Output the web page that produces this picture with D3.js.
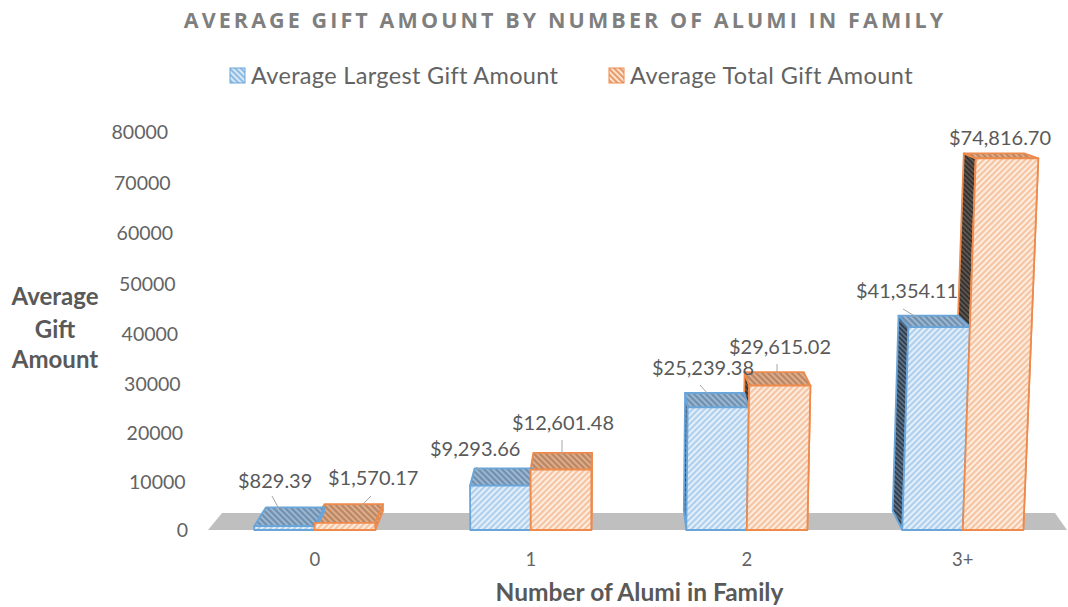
<!DOCTYPE html>
<html><head><meta charset="utf-8">
<script src="https://cdn.jsdelivr.net/npm/d3@7"></script>
<style>html,body{margin:0;padding:0;background:#fff}svg{display:block}text{font-family:Lato,"Open Sans",sans-serif}</style>
</head><body><svg id="c" width="1068" height="607"></svg>
<script>
const categories = ["0","1","2","3+"];
const seriesNames = ["Average Largest Gift Amount","Average Total Gift Amount"];
const largest = [829.39,9293.66,25239.38,41354.11];
const total = [1570.17,12601.48,29615.02,74816.70];
const largestLabels = ["$829.39","$9,293.66","$25,239.38","$41,354.11"];
const totalLabels = ["$1,570.17","$12,601.48","$29,615.02","$74,816.70"];
const yTicks = [0,10000,20000,30000,40000,50000,60000,70000,80000];
const W = 1068, H = 607;
const svg = d3.select("#c");
const y = d3.scalePow().exponent(1.02).domain([0,80000]).range([530,132]);
const x0 = d3.scaleBand().domain(categories).range([207.8,1069.8]).paddingInner(0.44).paddingOuter(0.2153);
const x1 = d3.scaleBand().domain([0,1]).range([0,x0.bandwidth()]);

// perspective projection of the 3-D box corners
function pt(x, v, back){
  const h = 530 - y(v);
  const fx = x + (x-560)*8.7e-5*h;
  const fy = y(v);
  if(!back) return [fx,fy];
  return [fx + (610-fx)*0.033, fy - (19 - h*0.038)];
}
const poly = ps => ps.map(p=>p.map(n=>n.toFixed(1)).join(",")).join(" ");

const defs = svg.append("defs");
function hatch(id,bg,stroke,angle,gap,sw){
  const p = defs.append("pattern").attr("id",id).attr("patternUnits","userSpaceOnUse")
    .attr("width",gap).attr("height",gap).attr("patternTransform",`rotate(${angle})`);
  p.append("rect").attr("width",gap).attr("height",gap).attr("fill",bg);
  p.append("line").attr("x1",0).attr("y1",gap/2).attr("x2",gap).attr("y2",gap/2)
    .attr("stroke",stroke).attr("stroke-width",sw);
}
const pal = [
 {edge:"#6aa5da",front:["#e6f0fa","#a9cdec"],top:["#9fb8d0","#6d8fb0"],side:["#5d6f83","#2f3f50"],leg:["#d8e8f6","#8ebbe3"]},
 {edge:"#ee8a4c",front:["#fdeee2","#f5c09c"],top:["#dfae8d","#b98561"],side:["#5f5650","#35312e"],leg:["#fbe3d2","#e99a66"]}
];
pal.forEach((c,i)=>{
  hatch("f"+i,c.front[0],c.front[1],-45,4.2,2);
  hatch("t"+i,c.top[0],c.top[1],45,4.2,2.2);
  hatch("s"+i,c.side[0],c.side[1],45,3.5,1.8);
  hatch("l"+i,c.leg[0],c.leg[1],45,4,2);
});

// title
svg.append("text").attr("x",565).attr("y",28).attr("text-anchor","middle")
  .style("font-family","'Open Sans',sans-serif")
  .attr("font-size",21.5).attr("font-weight",700).attr("letter-spacing",3.1).attr("fill","#7f7f7f")
  .text("AVERAGE GIFT AMOUNT BY NUMBER OF ALUMI IN FAMILY");

// legend
const legendX = [230,609], legendTextX = [251,630];
seriesNames.forEach((n,i)=>{
  svg.append("rect").attr("x",legendX[i]).attr("y",68).attr("width",15).attr("height",15)
    .attr("fill",`url(#l${i})`).attr("stroke",pal[i].edge).attr("stroke-width",1);
  svg.append("text").attr("x",legendTextX[i]).attr("y",84).attr("font-size",23.5).attr("letter-spacing",i?0.43:0.33)
    .attr("fill","#636363").text(n);
});

// floor
const fl = [[208,530],[222,513],[1055,513],[1067,530]];
svg.append("polygon").attr("points",poly(fl)).attr("fill","#bfbfbf");

// y axis tick labels (follow the perspective lean)
svg.append("g").selectAll("text").data(yTicks).join("text")
  .attr("x",d=>188-(530-y(d))*0.05).attr("y",d=>y(d)+7).attr("text-anchor","end")
  .attr("font-size",19.5).attr("fill","#636363").text(d=>d);

// x category labels
svg.selectAll(".cat").data(categories).join("text").attr("class","cat")
  .attr("x",d=>x0(d)+x0.bandwidth()/2).attr("y",566).attr("text-anchor","middle")
  .attr("font-size",18.5).attr("fill","#636363").text(d=>d);

// axis titles
["Average","Gift","Amount"].forEach((t,i)=>{
  svg.append("text").attr("x",55).attr("y",[305,338,368][i]).attr("text-anchor","middle")
    .attr("font-size",24).attr("font-weight",700).attr("fill","#595959").text(t);
});
svg.append("text").attr("x",639.5).attr("y",601).attr("text-anchor","middle")
  .attr("font-size",24.5).attr("font-weight",700).attr("fill","#595959").text("Number of Alumi in Family");

// bars
function drawBar(cat,s,v){
  const L = x0(cat)+x1(s), R = L+x1.bandwidth();
  const g = svg.append("g").attr("stroke",pal[s].edge).attr("stroke-width",1.8).attr("stroke-linejoin","round");
  const fl0=pt(L,0,false), fr0=pt(R,0,false), flt=pt(L,v,false), frt=pt(R,v,false);
  const bl0=pt(L,0,true), br0=pt(R,0,true), blt=pt(L,v,true), brt=pt(R,v,true);
  if(blt[0]<flt[0]) g.append("polygon").attr("points",poly([fl0,flt,blt,bl0])).attr("fill",`url(#s${s})`);
  if(brt[0]>frt[0]) g.append("polygon").attr("points",poly([fr0,frt,brt,br0])).attr("fill",`url(#t${s})`);
  g.append("polygon").attr("points",poly([flt,blt,brt,frt])).attr("fill",`url(#t${s})`);
  g.append("polygon").attr("points",poly([fl0,flt,frt,fr0])).attr("fill",`url(#f${s})`);
}
categories.forEach((c,i)=>{ drawBar(c,1,total[i]); drawBar(c,0,largest[i]); });
// orange front overlaps blue's right edge
categories.forEach((c,i)=>{
  const L=x0(c)+x1(1), R=L+x1.bandwidth(), v=total[i];
  svg.append("polygon").attr("points",poly([pt(L,0,false),pt(L,v,false),pt(R,v,false),pt(R,0,false)]))
    .attr("fill","url(#f1)").attr("stroke",pal[1].edge).attr("stroke-width",1.8).attr("stroke-linejoin","round");
});

// data labels and leader lines
const labelPos = {
  x: [[238,328],[430,512],[652,729],[856,949]],
  y: [[488,485],[456,430],[375,354],[298,145]]
};
const leaders = [[[272,496,279,509],[371,496,362,505]],[[476,467,480,470],[562,440,562,455]],[[700,385,708,394],[777,364,777,375]],[[903,309,918,318],[0,0,0,0]]];
[largestLabels,totalLabels].forEach((arr,s)=>{
  arr.forEach((t,i)=>{
    svg.append("text").attr("x",labelPos.x[i][s]).attr("y",labelPos.y[i][s])
      .attr("font-size",20).attr("fill","#595959").text(t);
    const l=leaders[i][s];
    if(l[0]) svg.append("line").attr("x1",l[0]).attr("y1",l[1]).attr("x2",l[2]).attr("y2",l[3])
      .attr("stroke","#a6a6a6").attr("stroke-width",1);
  });
});
</script></body></html>
